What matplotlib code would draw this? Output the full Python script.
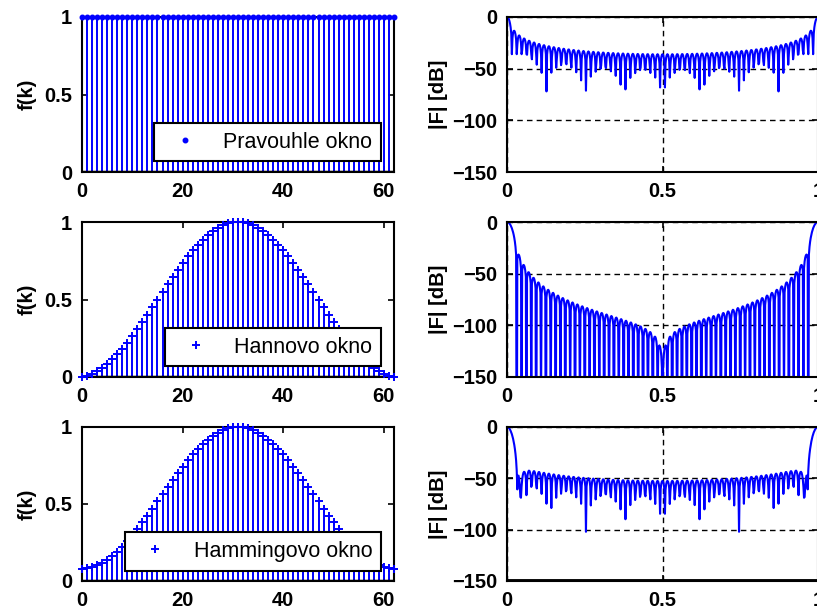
import numpy as np
import matplotlib
matplotlib.use("Agg")
import matplotlib.pyplot as plt

# sample index k of the 63-point windows
k = list(range(63))

# rectangular window
pravouhle = [
    1.0, 1.0, 1.0, 1.0, 1.0, 1.0, 1.0, 1.0, 1.0, 1.0, 1.0, 1.0, 1.0, 1.0, 1.0, 1.0,
    1.0, 1.0, 1.0, 1.0, 1.0, 1.0, 1.0, 1.0, 1.0, 1.0, 1.0, 1.0, 1.0, 1.0, 1.0, 1.0,
    1.0, 1.0, 1.0, 1.0, 1.0, 1.0, 1.0, 1.0, 1.0, 1.0, 1.0, 1.0, 1.0, 1.0, 1.0, 1.0,
    1.0, 1.0, 1.0, 1.0, 1.0, 1.0, 1.0, 1.0, 1.0, 1.0, 1.0, 1.0, 1.0, 1.0, 1.0,
]

# Hann window (no zero end points)
hannovo = [
    0.00240764, 0.00960736, 0.02152983, 0.03806023, 0.05903937, 0.08426519,
    0.11349477, 0.14644661, 0.18280336, 0.22221488, 0.26430163, 0.30865828,
    0.35485766, 0.40245484, 0.45099143, 0.5, 0.54900857, 0.59754516,
    0.64514234, 0.69134172, 0.73569837, 0.77778512, 0.81719664, 0.85355339,
    0.88650523, 0.91573481, 0.94096063, 0.96193977, 0.97847017, 0.99039264,
    0.99759236,
    1.0,
    0.99759236, 0.99039264, 0.97847017, 0.96193977, 0.94096063, 0.91573481,
    0.88650523, 0.85355339, 0.81719664, 0.77778512, 0.73569837, 0.69134172,
    0.64514234, 0.59754516, 0.54900857, 0.5, 0.45099143, 0.40245484,
    0.35485766, 0.30865828, 0.26430163, 0.22221488, 0.18280336, 0.14644661,
    0.11349477, 0.08426519, 0.05903937, 0.03806023, 0.02152983, 0.00960736,
    0.00240764,
]

# Hamming window
hammingovo = [
    0.08, 0.08236011, 0.08941623, 0.10109594, 0.11727941, 0.13780055, 0.16244882,
    0.19097126, 0.22307522, 0.25843125, 0.29667656, 0.33741869, 0.38023959,
    0.42469984, 0.47034322, 0.51670138, 0.56329862, 0.60965678, 0.65530016,
    0.69976042, 0.74258131, 0.78332344, 0.82156875, 0.85692478, 0.88902874,
    0.91755118, 0.94219945, 0.96272059, 0.97890406, 0.99058377, 0.99763989,
    1.0,
    0.99763989, 0.99058377, 0.97890406, 0.96272059, 0.94219945, 0.91755118,
    0.88902874, 0.85692478, 0.82156875, 0.78332344, 0.74258131, 0.69976042,
    0.65530016, 0.60965678, 0.56329862, 0.51670138, 0.47034322, 0.42469984,
    0.38023959, 0.33741869, 0.29667656, 0.25843125, 0.22307522, 0.19097126,
    0.16244882, 0.13780055, 0.11727941, 0.10109594, 0.08941623, 0.08236011, 0.08,
]

windows = [pravouhle, hannovo, hammingovo]
names = ["Pravouhle okno", "Hannovo okno", "Hammingovo okno"]
markers = [".", "+", "+"]

left_xticks = [0, 20, 40, 60]
left_yticks = [0, 0.5, 1]
left_yticklabels = ["0", "0.5", "1"]
right_xticks = [0, 0.5, 1]
right_xticklabels = ["0", "0.5", "1"]
right_yticks = [-150, -100, -50, 0]

NFFT = 512


def spectrum_db(w):
    F = np.abs(np.fft.fft(np.asarray(w), NFFT))
    return 20 * np.log10(np.maximum(F / F.max(), 1e-15))


freq = np.arange(NFFT) / NFFT

plt.rcParams["font.family"] = ["Liberation Sans", "DejaVu Sans"]
plt.rcParams["font.weight"] = "bold"
plt.rcParams["axes.linewidth"] = 1.5

W, H = 817, 609
fig = plt.figure(figsize=(W / 100, H / 100), dpi=100)


def pixel_axes(x0, y0, x1, y1):
    return fig.add_axes([x0 / W, 1 - y1 / H, (x1 - x0) / W, (y1 - y0) / H])


rows = [(17, 172), (222, 377), (427, 581)]
TICK_FS = 14.5

for i, (y0, y1) in enumerate(rows):
    # window samples
    ax = pixel_axes(82, y0, 394, y1)
    ml, sl, bl = ax.stem(k, windows[i], linefmt="b-", markerfmt="b" + markers[i],
                         basefmt="k-")
    plt.setp(sl, linewidth=1.4, color="#0000ff")
    plt.setp(ml, color="#0000ff", clip_on=False, zorder=4)
    if markers[i] == ".":
        plt.setp(ml, markersize=6.5)
    else:
        plt.setp(ml, markersize=5.5, markeredgewidth=1.4)
    plt.setp(bl, linewidth=2.5, color="k")
    ax.set_xlim(0, 62)
    ax.set_ylim(0, 1)
    ax.set_xticks(left_xticks)
    ax.set_yticks(left_yticks)
    ax.set_yticklabels(left_yticklabels)
    ax.tick_params(direction="in", length=4, width=1.2, top=True, right=True,
                   labelsize=TICK_FS, pad=7)
    ax.set_ylabel("f(k)", fontsize=TICK_FS, fontweight="bold")
    ax.yaxis.set_label_coords(-0.145, 0.5)
    leg = ax.legend([ml], [names[i]], loc="lower right",
                    bbox_to_anchor=(0.958, 0.068), borderaxespad=0,
                    fancybox=False, framealpha=1, edgecolor="k",
                    prop={"size": 15.5, "weight": "normal"},
                    borderpad=0.4, handletextpad=0.8, handlelength=2.0)
    leg.get_frame().set_linewidth(1.5)

    # magnitude spectrum
    ax2 = pixel_axes(507, y0, 818, y1)
    ax2.plot(freq, spectrum_db(windows[i]), color="#0000ff", linewidth=1.5)
    if i == 2:
        ax2.axhline(-150, color="k", linewidth=3.5, zorder=3)
    ax2.set_xlim(0, 1)
    ax2.set_ylim(-150, 0)
    ax2.set_xticks(right_xticks)
    ax2.set_xticklabels(right_xticklabels)
    ax2.set_yticks(right_yticks)
    ax2.grid(True, color="k", linestyle=(0, (4, 3)), linewidth=1.0)
    ax2.tick_params(direction="in", length=4, width=1.2, top=True, right=True,
                    labelsize=TICK_FS, pad=7)
    ax2.set_ylabel("|F| [dB]", fontsize=TICK_FS, fontweight="bold")
    ax2.yaxis.set_label_coords(-0.19, 0.5)

fig.savefig("out.png", dpi=100)
